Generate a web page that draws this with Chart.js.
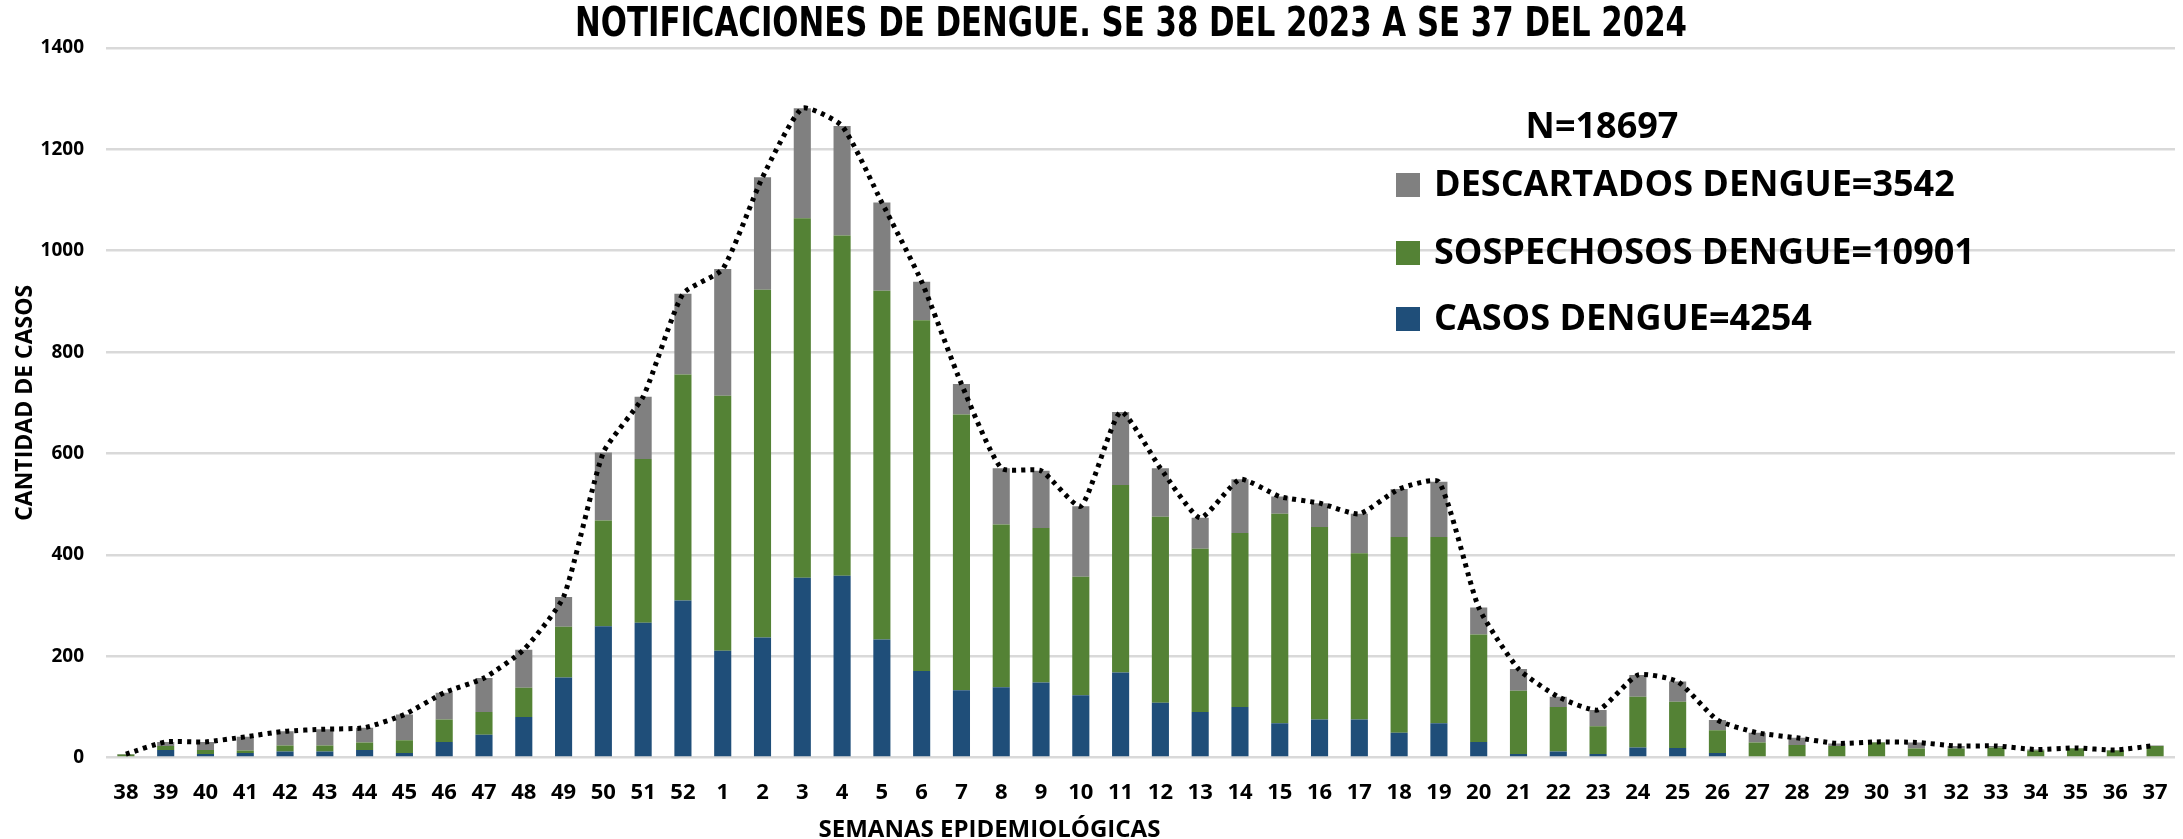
<!DOCTYPE html>
<html>
<head>
<meta charset="utf-8">
<script src="https://cdn.jsdelivr.net/npm/chart.js@4.4.1/dist/chart.umd.min.js"></script>
<style>
  body { margin: 0; background: #fff; }
  canvas { display: block; }
</style>
</head>
<body>
<canvas id="chart" width="2183" height="839"></canvas>
<script>
const weeks = ['38', '39', '40', '41', '42', '43', '44', '45', '46', '47', '48', '49', '50', '51', '52',
  '1', '2', '3', '4', '5', '6', '7', '8', '9', '10', '11', '12', '13', '14', '15', '16', '17', '18', '19',
  '20', '21', '22', '23', '24', '25', '26', '27', '28', '29', '30', '31', '32', '33', '34', '35', '36', '37'];

// casos confirmados (azul)
const casos = [0, 15, 7, 9, 12, 12, 15, 9, 31, 45, 80, 158, 259, 266, 310,
  211, 237, 355, 359, 233, 171, 133, 139, 148, 123, 168, 108, 90, 100, 68, 75, 75, 49, 68,
  31, 7, 12, 7, 20, 19, 9, 0, 0, 0, 0, 0, 0, 0, 0, 0, 0, 0];

// sospechosos (verde)
const sospechosos = [6, 8, 8, 5, 12, 12, 15, 25, 44, 45, 58, 100, 209, 323, 446,
  503, 686, 709, 671, 688, 692, 544, 321, 305, 234, 370, 367, 322, 343, 413, 380, 328, 386, 367,
  212, 125, 88, 55, 100, 91, 45, 30, 25, 23, 30, 18, 18, 20, 14, 18, 14, 23];

// descartados (gris)
const descartados = [1, 8, 16, 27, 28, 32, 29, 51, 53, 67, 75, 59, 134, 123, 159,
  250, 222, 217, 216, 174, 76, 60, 111, 113, 139, 144, 96, 61, 106, 34, 47, 78, 95, 109,
  53, 43, 20, 32, 43, 40, 20, 19, 14, 5, 1, 12, 5, 3, 2, 1, 1, 1];

const totales = weeks.map((w, i) => casos[i] + sospechosos[i] + descartados[i]);

const titleText = 'NOTIFICACIONES DE DENGUE. SE 38 DEL 2023 A SE 37 DEL 2024';
const nText = 'N=18697';
const labelCasos = 'CASOS DENGUE=4254';
const labelSosp = 'SOSPECHOSOS DENGUE=10901';
const labelDesc = 'DESCARTADOS DENGUE=3542';

const FONT = '"Open Sans", "DejaVu Sans", sans-serif';

// titulo, titulo eje x y leyenda dibujados a mano
const extras = {
  id: 'extras',
  afterDraw(chart) {
    const ctx = chart.ctx;
    const area = chart.chartArea;
    ctx.save();
    ctx.fillStyle = '#000';
    ctx.textBaseline = 'middle';
    ctx.textAlign = 'center';

    // titulo condensado
    ctx.font = 'bold 40px "Liberation Sans Narrow", "DejaVu Sans Condensed", sans-serif';
    const w = ctx.measureText(titleText).width;
    ctx.save();
    ctx.translate(1131, 26);
    ctx.scale(1112 / w, 1);
    ctx.fillText(titleText, 0, 0);
    ctx.restore();

    ctx.font = 'bold 24px ' + FONT;
    ctx.fillText('SEMANAS EPIDEMIOLÓGICAS', area.left + (area.right - area.left) * 0.427, 830);

    ctx.font = 'bold 36px ' + FONT;
    ctx.fillText(nText, 1602, 128);

    ctx.textAlign = 'left';
    const rows = [185, 253, 319];
    [2, 1, 0].forEach((d, k) => {
      const ds = chart.data.datasets[d];
      ctx.fillStyle = ds.backgroundColor;
      ctx.fillRect(1396, rows[k] - 12, 24, 24);
      ctx.fillStyle = '#000';
      ctx.fillText(ds.label, 1434, rows[k] + 1);
    });
    ctx.restore();
  }
};

new Chart(document.getElementById('chart'), {
  data: {
    labels: weeks,
    datasets: [
      { type: 'bar', label: labelCasos, data: casos, backgroundColor: '#1F4E79', stack: 'a', order: 1 },
      { type: 'bar', label: labelSosp, data: sospechosos, backgroundColor: '#548235', stack: 'a', order: 1 },
      { type: 'bar', label: labelDesc, data: descartados, backgroundColor: '#808080', stack: 'a', order: 1 },
      {
        type: 'line', label: 'TOTAL', data: totales, stack: 'b', order: 0,
        borderColor: '#000', borderWidth: 5, borderDash: [4, 5], borderCapStyle: 'butt',
        pointRadius: 0, tension: 0.18, fill: false
      }
    ]
  },
  options: {
    responsive: false,
    animation: false,
    barPercentage: 0.43,
    categoryPercentage: 1,
    layout: { padding: { top: 48, right: 8, bottom: 19, left: 8 } },
    plugins: {
      legend: { display: false },
      title: { display: false },
      tooltip: { enabled: false }
    },
    scales: {
      x: {
        stacked: true,
        grid: { display: false },
        border: { display: false },
        ticks: { color: '#000', padding: 14, font: { family: FONT, size: 22, weight: 'bold' } }
      },
      y: {
        stacked: true,
        min: 0,
        max: 1400,
        afterFit(scale) { scale.width = 98; },
        ticks: {
          stepSize: 200, color: '#000', padding: 22,
          callback: (v) => String(v),
          font: { family: FONT, size: 19, weight: 'bold' }
        },
        grid: { color: '#d9d9d9', lineWidth: 2.5, drawTicks: false },
        border: { display: false },
        title: {
          display: true,
          text: 'CANTIDAD DE CASOS',
          color: '#000',
          padding: { top: 4, bottom: 4 },
          font: { family: FONT, size: 23, weight: 'bold' }
        }
      }
    }
  },
  plugins: [extras]
});
</script>
</body>
</html>
